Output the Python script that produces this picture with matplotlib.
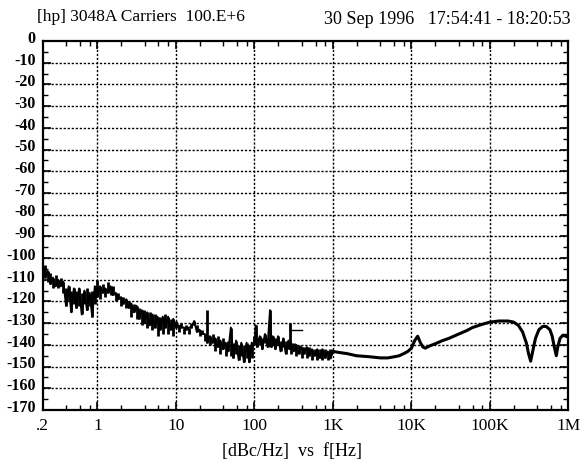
import matplotlib
matplotlib.use("Agg")
import matplotlib.pyplot as plt
from matplotlib.ticker import FixedLocator, FixedFormatter, LogLocator, NullFormatter, MultipleLocator
import matplotlib.transforms as mtransforms

plt.rcParams['font.family'] = ['Liberation Serif', 'DejaVu Serif']

# ---- data (frequency in Hz, phase noise in dBc/Hz) ----
# noisy part: upper and lower edge of the noise trace at each sampled frequency
freq_a = [0.2, 0.216, 0.233, 0.252, 0.272, 0.293, 0.317, 0.342, 0.369, 0.399, 0.431,
          0.465, 0.502, 0.542, 0.585, 0.632, 0.683, 0.737, 0.796, 0.859, 0.928]
top_a = [-104, -103, -106, -107, -109, -108, -110, -109, -111, -114, -113,
         -115, -114, -115, -114, -116, -115, -114, -116, -115, -113]
bot_a = [-108, -109, -111, -112, -114, -113, -114, -113, -116, -122, -120,
         -125, -121, -123, -122, -126, -121, -124, -122, -127, -121]

freq_b = [1, 1.08, 1.17, 1.26, 1.36, 1.47, 1.58, 1.71, 1.85, 2.0, 2.15, 2.33, 2.51, 2.71,
          2.93, 3.16, 3.41, 3.69, 3.98, 4.3, 4.64, 5.01, 5.41, 5.84, 6.31, 6.81, 7.36,
          7.94, 8.58, 9.26]
top_b = [-110, -113, -112, -114, -111, -113, -113, -116, -116, -118, -118, -119, -120, -121,
         -121, -122, -123, -124, -124, -125, -125, -126, -126, -127, -127, -127, -126,
         -127, -128, -128]
bot_b = [-118, -119, -116, -118, -116, -117, -117, -120, -119, -122, -121, -123, -123, -127,
         -125, -128, -128, -131, -130, -132, -131, -133, -132, -136, -133, -135, -132,
         -135, -133, -136]

freq_c = [10, 10.8, 11.7, 12.6, 13.6, 14.7, 15.8, 17.1, 18.5, 20, 21.5, 23.3, 25.1, 27.1,
          29.3, 31.6, 34.1, 36.9, 39.8, 43, 46.4, 50.1, 54.1, 58.4, 63.1, 68.1, 73.6,
          79.4, 85.8, 92.6]
top_c = [-129, -131, -130, -132, -131, -132, -130, -129, -131, -133, -133, -135, -124, -136,
         -135, -137, -136, -138, -137, -139, -138, -132, -139, -138, -140, -139, -140,
         -139, -140, -139]
bot_c = [-132, -134, -132, -135, -133, -135, -132, -131, -134, -136, -135, -138, -139, -140,
         -139, -143, -141, -144, -142, -145, -143, -145, -146, -144, -147, -145, -148,
         -146, -148, -146]

freq_d = [100, 104, 108, 117, 126, 136, 147, 158, 165, 171, 185, 200, 215, 233, 251, 271,
          280, 293, 316, 341, 369, 398, 430, 464, 501, 541, 584, 631, 681, 736, 794, 858, 926]
top_d = [-136, -131, -137, -136, -137, -135, -137, -124, -137, -136, -137, -136, -138, -137,
         -138, -138, -130, -139, -139, -140, -140, -141, -141, -141, -141, -142, -142, -142,
         -142, -142, -142, -143, -142]
bot_d = [-140, -139, -141, -140, -142, -139, -141, -140, -141, -140, -142, -140, -143, -141,
         -144, -142, -142, -144, -143, -145, -144, -146, -144, -146, -145, -147, -145, -147,
         -146, -147, -146, -147, -146]

# smooth part above 1 kHz
freq_e = [1000, 1200, 1500, 2000, 3000, 4000, 5000, 6000, 7000, 8000, 9000, 10000, 11000,
          12000, 13000, 14000, 15000, 17000, 20000, 25000, 30000, 40000, 50000, 60000,
          80000, 100000, 130000, 170000, 200000, 230000, 260000, 290000, 310000, 330000,
          350000, 380000, 420000, 470000, 520000, 580000, 620000, 660000, 700000, 730000,
          780000, 850000, 920000, 1000000]
db_e = [-143, -143.5, -144, -145, -145.5, -146, -146, -145.5, -145, -144, -143, -141.5, -138,
        -136, -139, -141, -141.5, -140.5, -139.5, -138, -137, -135, -133.5, -132,
        -130.5, -129.5, -129, -129, -129.5, -131, -134, -139, -144, -147.5,
        -143, -137, -133, -131.5, -131.5, -133, -136, -141, -145, -141,
        -137, -135.5, -136, -136.5]

spur_f = [280, 400]
spur_db = [-133, -133]

x_ticks = [0.2, 1, 10, 100, 1e3, 1e4, 1e5, 1e6]
x_labels = ['.2', '1', '10', '100', '1K', '10K', '100K', '1M']
y_ticks = list(range(0, -171, -10))
y_labels = [str(v) for v in y_ticks]

title_left = '[hp] 3048A Carriers  100.E+6'
title_right = '30 Sep 1996   17:54:41 - 18:20:53'
x_title = '[dBc/Hz]  vs  f[Hz]'

# ---- figure ----
fig = plt.figure(figsize=(5.83, 4.69), dpi=100)
ax = fig.add_axes([0.0729, 0.1258, 0.9022, 0.7868])

noisy_f = freq_a + freq_b + freq_c + freq_d
noisy_top = top_a + top_b + top_c + top_d
noisy_bot = bot_a + bot_b + bot_c + bot_d
zig = [t if i % 2 == 0 else b for i, (t, b) in enumerate(zip(noisy_top, noisy_bot))]
ax.vlines(noisy_f, noisy_bot, noisy_top, color='black', lw=2.0)
ax.plot(noisy_f, zig, color='black', lw=1.4)
ax.plot(noisy_f[-1:] + freq_e[:1], zig[-1:] + db_e[:1], color='black', lw=1.8)
ax.plot(freq_e, db_e, color='black', lw=2.2)
ax.plot(spur_f, spur_db, color='black', lw=1.0)

ax.set_xscale('log')
ax.set_xlim(0.2, 1e6)
ax.set_ylim(-170, 0)

ax.xaxis.set_major_locator(FixedLocator(x_ticks))
ax.xaxis.set_major_formatter(FixedFormatter(x_labels))
ax.xaxis.set_minor_locator(LogLocator(base=10, subs=(2, 4, 6, 8), numticks=20))
ax.xaxis.set_minor_formatter(NullFormatter())
ax.yaxis.set_major_locator(FixedLocator(y_ticks))
ax.yaxis.set_major_formatter(FixedFormatter(y_labels))
ax.yaxis.set_minor_locator(MultipleLocator(5))

ax.tick_params(axis='both', which='major', direction='in', length=6, width=1.2,
               top=True, right=True, color='black')
ax.tick_params(axis='both', which='minor', direction='in', length=3.5, width=1.0,
               top=True, right=True, color='black')
ax.tick_params(axis='x', which='major', labelsize=12.5, pad=6)
ax.tick_params(axis='y', which='major', labelsize=11.5, pad=5)
for lab in ax.get_yticklabels():
    lab.set_fontweight('bold')
    lab.set_transform(lab.get_transform() +
                      mtransforms.ScaledTranslation(0, 3 / 72, fig.dpi_scale_trans))

for sp in ax.spines.values():
    sp.set_linewidth(1.6)
    sp.set_color('black')

grid_style = dict(color='black', lw=1.0, linestyle=(0, (1.6, 1.3)), zorder=0)
for xv in x_ticks[1:-1]:
    ax.axvline(xv, **grid_style)
for yv in y_ticks[1:-1]:
    ax.axhline(yv, **grid_style)

fig.text(37 / 583, 1 - 17 / 469, title_left, fontsize=12.5, ha='left', va='center')
fig.text(571 / 583, 1 - 19 / 469, title_right, fontsize=13, ha='right', va='center')
fig.text(292 / 583, 1 - 451 / 469, x_title, fontsize=13, ha='center', va='center')

fig.savefig('out.png', dpi=100, facecolor='white')
